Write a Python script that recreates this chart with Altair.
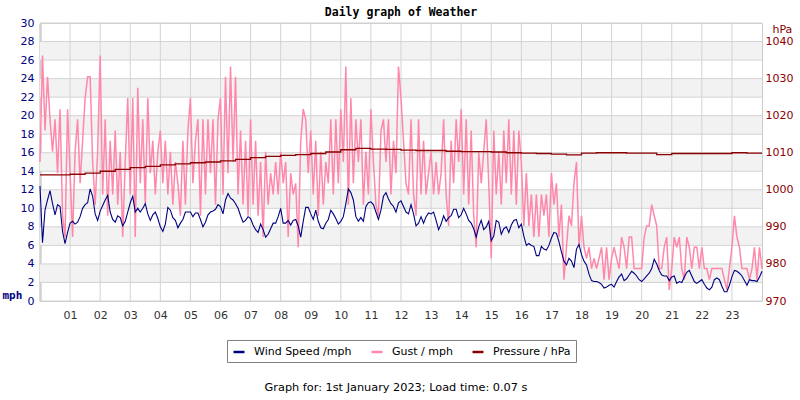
import json
import altair as alt
import pandas as pd

# ---- data: one day, 5-minute samples (00:00 .. 24:00) ----
minutes = list(range(0, 24 * 60 + 1, 5))

wind_mph = [
    12.4, 6.3, 9.8, 10.9, 11.9, 10.5, 9.3, 10.4, 10.2, 7.5, 6.2, 7.4,
    8.4, 8.6, 8.3, 8.5, 9.1, 10.0, 10.4, 10.6, 12.1, 11.3, 9.4, 8.7,
    9.7, 10.3, 10.9, 11.4, 9.6, 8.8, 8.5, 9.2, 9.0, 8.1, 8.6, 9.6,
    10.6, 11.3, 9.6, 10.0, 9.6, 10.0, 10.5, 9.4, 8.7, 9.3, 9.6, 8.9,
    8.0, 7.5, 8.3, 10.1, 9.8, 9.0, 8.7, 7.9, 8.4, 8.8, 9.6, 9.6,
    9.6, 9.1, 9.5, 9.5, 8.8, 8.0, 8.5, 9.3, 9.6, 9.7, 9.9, 10.4,
    10.2, 9.4, 10.9, 11.6, 11.1, 10.9, 10.5, 10.0, 9.2, 8.5, 8.7, 9.1,
    8.9, 8.2, 7.7, 7.4, 8.3, 7.7, 6.9, 7.2, 7.8, 8.4, 8.4, 9.1,
    10.0, 8.4, 8.4, 8.7, 8.2, 8.7, 8.8, 8.1, 6.9, 8.6, 10.1, 10.1,
    9.4, 8.8, 9.8, 8.6, 7.9, 7.8, 8.4, 8.8, 9.8, 9.4, 8.9, 8.3,
    8.6, 9.1, 10.5, 12.1, 11.7, 10.9, 9.1, 8.6, 9.0, 8.6, 10.2, 10.6,
    10.7, 10.4, 9.6, 8.8, 9.8, 11.3, 11.7, 11.0, 10.5, 10.2, 9.6, 10.6,
    10.8, 10.2, 9.6, 9.4, 10.4, 9.4, 8.1, 8.4, 9.1, 8.4, 9.1, 9.5,
    9.4, 9.6, 8.7, 7.7, 8.3, 9.2, 8.6, 9.0, 9.2, 9.9, 9.9, 9.0,
    9.3, 10.0, 9.4, 8.7, 8.4, 7.8, 6.9, 8.0, 8.7, 7.7, 8.0, 8.6,
    6.5, 7.0, 8.7, 8.5, 7.2, 7.8, 8.0, 7.4, 8.2, 8.7, 8.8, 7.9,
    8.3, 7.0, 6.0, 6.2, 6.0, 5.9, 4.9, 4.9, 5.9, 5.6, 5.5, 6.0,
    6.8, 7.4, 7.3, 6.4, 5.3, 4.3, 3.9, 4.6, 4.3, 3.6, 5.6, 6.1,
    5.0, 4.3, 3.9, 2.9, 2.2, 2.1, 2.1, 2.0, 1.8, 1.4, 1.5, 1.7,
    1.8, 1.5, 2.1, 2.6, 2.9, 2.2, 2.4, 2.8, 3.2, 3.0, 2.7, 2.3,
    2.1, 2.4, 2.7, 3.0, 3.5, 4.5, 4.0, 3.3, 2.8, 2.7, 2.7, 2.2,
    2.6, 2.7, 1.9, 2.1, 2.0, 2.6, 3.1, 3.3, 2.7, 2.1, 1.9, 2.1,
    2.3, 1.8, 1.4, 1.2, 1.5, 2.3, 2.5, 2.3, 1.6, 1.0, 1.0, 1.7,
    2.6, 3.3, 3.2, 3.0, 2.7, 2.2, 1.7, 2.3, 2.2, 2.2, 2.1, 2.6, 3.2,
]

gust_mph = [
    15.0, 26.5, 18.4, 24.2, 19.6, 16.1, 19.6, 13.8, 20.7, 9.2, 6.9, 20.7,
    13.8, 6.9, 16.1, 19.6, 12.7, 17.3, 21.9, 24.2, 24.2, 15.0, 10.4, 16.1,
    26.5, 11.5, 19.6, 9.2, 17.3, 11.5, 18.4, 10.4, 16.1, 6.9, 15.0, 21.9,
    11.5, 21.9, 6.9, 23.0, 12.7, 19.6, 10.4, 21.9, 13.8, 17.3, 11.5, 16.1,
    18.4, 12.7, 17.3, 11.5, 16.1, 10.4, 15.0, 12.7, 9.2, 17.3, 10.4, 18.4,
    21.9, 12.7, 17.3, 19.6, 9.2, 19.6, 11.5, 19.6, 13.8, 19.6, 10.4, 19.6,
    21.9, 11.5, 24.2, 13.8, 25.3, 15.0, 24.2, 11.5, 18.4, 10.4, 17.3, 9.2,
    19.6, 10.4, 17.3, 9.2, 15.0, 6.9, 16.1, 10.4, 13.8, 11.5, 15.0, 11.5,
    16.1, 12.7, 15.0, 6.9, 13.8, 11.5, 12.7, 5.8, 17.3, 20.7, 19.6, 13.8,
    18.4, 11.5, 17.3, 9.2, 16.1, 10.4, 15.0, 12.7, 19.6, 11.5, 19.6, 12.7,
    20.7, 15.0, 25.3, 10.4, 21.9, 12.7, 19.6, 15.0, 19.6, 10.4, 16.1, 11.5,
    20.7, 15.0, 10.4, 9.2, 18.4, 19.6, 15.0, 19.6, 11.5, 17.3, 13.8, 25.3,
    21.9, 17.3, 12.7, 11.5, 19.6, 11.5, 9.2, 19.6, 11.5, 17.3, 11.5, 13.8,
    16.1, 11.5, 15.0, 11.5, 13.8, 19.6, 11.5, 8.1, 17.3, 12.7, 19.6, 15.0,
    20.7, 11.5, 19.6, 10.4, 18.4, 9.2, 5.8, 16.1, 12.7, 16.1, 19.6, 12.7,
    4.6, 18.4, 11.5, 16.1, 10.4, 18.4, 12.7, 19.6, 11.5, 18.4, 10.4, 18.4,
    15.0, 8.1, 13.8, 8.1, 11.5, 6.9, 11.5, 6.9, 11.5, 9.2, 11.5, 6.9,
    13.8, 10.4, 12.7, 6.9, 10.4, 2.3, 5.8, 9.2, 8.1, 12.7, 15.0, 5.8,
    9.2, 5.8, 4.6, 5.8, 3.5, 4.6, 3.5, 4.6, 5.8, 2.3, 5.8, 2.3,
    4.6, 5.8, 4.6, 3.5, 6.9, 5.8, 3.5, 6.9, 6.9, 3.5, 3.5, 3.5,
    3.5, 6.9, 8.1, 8.1, 10.4, 9.2, 8.1, 3.5, 3.5, 5.8, 6.9, 1.2,
    3.5, 6.9, 5.8, 6.9, 3.5, 2.3, 6.9, 5.8, 3.5, 5.8, 5.8, 3.5,
    5.8, 3.5, 3.5, 2.3, 3.5, 3.5, 3.5, 3.5, 3.5, 2.3, 1.2, 3.5,
    5.8, 9.2, 6.9, 5.8, 3.5, 3.5, 3.5, 2.3, 3.5, 5.8, 2.3, 5.8, 3.5,
]

# pressure, half-hourly
pressure_minutes = list(range(0, 24 * 60 + 1, 30))
pressure_hpa = [
    1004.0, 1004.0, 1004.2, 1004.5, 1005.0, 1005.5, 1006.0, 1006.3,
    1006.7, 1007.0, 1007.3, 1007.5, 1007.8, 1008.2, 1008.7, 1009.0,
    1009.3, 1009.5, 1009.8, 1010.2, 1010.8, 1011.2, 1011.0, 1010.9,
    1010.7, 1010.6, 1010.6, 1010.4, 1010.3, 1010.3, 1010.2, 1010.0,
    1009.9, 1009.8, 1009.6, 1009.4, 1009.9, 1010.0, 1010.0, 1009.9,
    1009.9, 1009.5, 1009.8, 1009.8, 1009.8, 1009.8, 1010.0, 1009.9,
    1009.9,
]

series_names = ["Wind Speed /mph", "Gust / mph", "Pressure / hPa"]
series_colors = ["#000080", "#ff88aa", "#8b0000"]

hour_labels = ["%02d" % h for h in range(1, 24)]
mph_ticks = list(range(0, 31, 2))
hpa_ticks = list(range(970, 1041, 10))
band_starts = list(range(2, 28, 4))

title_text = "Daily graph of Weather"
footer_text = "Graph for: 1st January 2023; Load time: 0.07 s"

W, H = 722, 278

# ---- tables ----
wind_df = pd.DataFrame({"hour": [m / 60 for m in minutes], "mph": wind_mph,
                        "series": series_names[0]})
gust_df = pd.DataFrame({"hour": [m / 60 for m in minutes], "mph": gust_mph,
                        "series": series_names[1]})
press_df = pd.DataFrame({"hour": [m / 60 for m in pressure_minutes],
                         "hpa": pressure_hpa, "series": series_names[2]})
band_df = pd.DataFrame({"lo": band_starts, "hi": [b + 2 for b in band_starts]})
hgrid_df = pd.DataFrame({"mph": mph_ticks})
vgrid_df = pd.DataFrame({"hour": list(range(1, 24))})

x_scale = alt.Scale(domain=[0, 24], nice=False, zero=False)
y_scale = alt.Scale(domain=[0, 30], nice=False)
p_scale = alt.Scale(domain=[970, 1045], nice=False, zero=False)
color_scale = alt.Scale(domain=series_names, range=series_colors)

legend = alt.Legend(
    orient="none", legendX=187, legendY=317, direction="horizontal",
    title=None, symbolType="stroke", symbolSize=121, symbolStrokeWidth=2.5,
    labelFont="DejaVu Sans", labelFontSize=11, labelColor="#000000",
    strokeColor="#808080", fillColor="#ffffff", padding=5,
    columnPadding=14, labelOffset=8,
)

x_axis = alt.Axis(
    values=list(range(1, 24)),
    labelExpr=json.dumps(hour_labels) + "[datum.value - 1]",
    labelOverlap=False,
    grid=False, ticks=False, domain=False, title=None,
    labelColor="#333333", labelFontSize=11, labelPadding=8,
    labelFont="DejaVu Sans",
)

y_axis = alt.Axis(
    values=mph_ticks, labelOverlap=False, grid=False, ticks=False,
    domain=True, domainColor="#d0d0d0", domainWidth=2.5,
    labelColor="#000080", labelFontSize=11, labelPadding=6,
    labelFont="DejaVu Sans",
    title="mph", titleAngle=0, titleX=-38, titleY=272,
    titleAlign="left", titleBaseline="middle",
    titleFont="DejaVu Sans Mono", titleFontWeight="bold",
    titleFontSize=11, titleColor="#000080",
)

p_axis = alt.Axis(
    orient="right", values=hpa_ticks, format="d", labelOverlap=False,
    grid=False, ticks=False, domain=False,
    labelColor="#8b0000", labelFontSize=11, labelPadding=3,
    labelFont="DejaVu Sans",
    title="hPa", titleAngle=0, titleX=10, titleY=6,
    titleAlign="left", titleBaseline="middle",
    titleFont="DejaVu Sans", titleFontWeight="normal",
    titleFontSize=11, titleColor="#8b0000",
)

# every layer that shares a scale carries the same axis definition
bands = alt.Chart(band_df).mark_rect(color="#f2f2f2").encode(
    x=alt.datum(0, scale=x_scale, axis=x_axis),
    x2=alt.datum(24),
    y=alt.Y("lo:Q", scale=y_scale, axis=y_axis),
    y2="hi:Q",
)

hgrid = alt.Chart(hgrid_df).mark_rule(color="#d3d3d3", strokeWidth=1).encode(
    y=alt.Y("mph:Q", scale=y_scale, axis=y_axis),
)

vgrid = alt.Chart(vgrid_df).mark_rule(color="#d3d3d3", strokeWidth=1).encode(
    x=alt.X("hour:Q", scale=x_scale, axis=x_axis),
)

gust = alt.Chart(gust_df).mark_line(strokeWidth=1.5).encode(
    x=alt.X("hour:Q", scale=x_scale, axis=x_axis),
    y=alt.Y("mph:Q", scale=y_scale, axis=y_axis),
    color=alt.Color("series:N", scale=color_scale, legend=legend),
)

wind = alt.Chart(wind_df).mark_line(strokeWidth=1.1).encode(
    x=alt.X("hour:Q", scale=x_scale, axis=x_axis),
    y=alt.Y("mph:Q", scale=y_scale, axis=y_axis),
    color=alt.Color("series:N", scale=color_scale, legend=legend),
)

title_mark = alt.Chart(pd.DataFrame({"t": [title_text]})).mark_text(
    font="DejaVu Sans Mono", fontWeight="bold", fontSize=11.5,
    color="#000000", align="center", baseline="middle",
).encode(x=alt.value(W / 2), y=alt.value(-10), text="t:N")

footer_mark = alt.Chart(pd.DataFrame({"t": [footer_text]})).mark_text(
    font="DejaVu Sans", fontSize=11.3, color="#000000",
    align="center", baseline="middle",
).encode(x=alt.value(356), y=alt.value(365), text="t:N")

left = alt.layer(bands, hgrid, vgrid, gust, wind, title_mark, footer_mark)

pressure = alt.Chart(press_df).mark_line(
    strokeWidth=1.3, interpolate="step-after"
).encode(
    x=alt.X("hour:Q", scale=x_scale, axis=x_axis),
    y=alt.Y("hpa:Q", scale=p_scale, axis=p_axis),
    color=alt.Color("series:N", scale=color_scale, legend=legend),
)

chart = (
    alt.layer(left, pressure)
    .resolve_scale(y="independent")
    .properties(
        width=W, height=H,
        autosize=alt.AutoSizeParams(type="none"),
        padding={"left": 40, "top": 23, "right": 38, "bottom": 99},
        background="#ffffff",
    )
    .configure_view(stroke="#cccccc", strokeWidth=1)
    .configure_axis(labelOverlap=False)
)

chart.save("out.html", embed_options={"renderer": "svg", "actions": False})
